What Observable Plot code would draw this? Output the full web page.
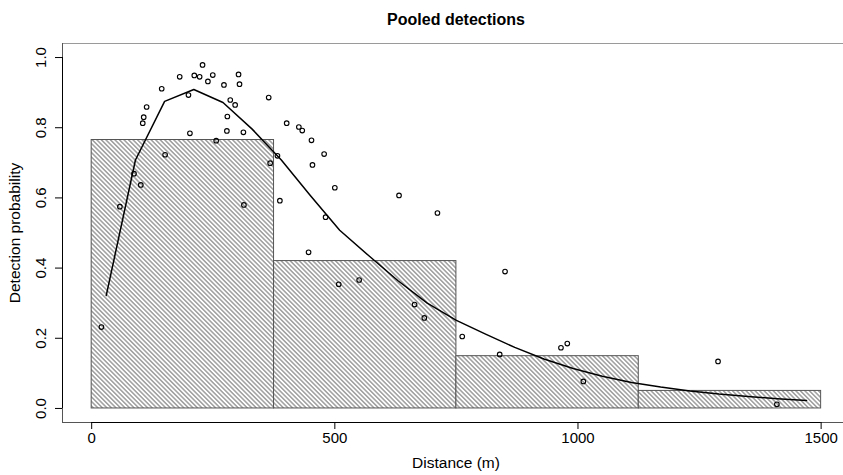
<!DOCTYPE html>
<html><head><meta charset="utf-8">
<script src="https://cdn.jsdelivr.net/npm/d3@7"></script>
<script src="https://cdn.jsdelivr.net/npm/@observablehq/plot@0.6"></script>
<style>
html,body{margin:0;padding:0;background:#fff;}
#chart svg{display:block;font-family:"Liberation Sans",Arial,sans-serif;}
</style></head><body><div id="chart"></div>
<script>
const chartTitle = "Pooled detections";
const xLabel = "Distance (m)";
const yLabel = "Detection probability";
const xTicks = [0, 500, 1000, 1500];
const yTicks = [0, 0.2, 0.4, 0.6, 0.8, 1.0];

// histogram bins (distance class edges and heights)
const binStart = [0, 375, 750, 1125];
const binEnd = [375, 750, 1125, 1500];
const binHeight = [0.765, 0.420, 0.149, 0.050];

// observed detection probabilities
const pointDist = [20, 58, 87, 101, 105, 107, 113, 144, 151, 181, 199, 202, 211, 222, 228, 239, 249, 256, 272, 279, 278, 285, 295, 302, 304, 312, 313, 364, 367, 382, 387, 401, 426, 433, 446, 452, 454, 478, 481, 500, 508, 550, 632, 664, 684, 711, 762, 839, 850, 965, 978, 1011, 1288, 1409];
const pointProb = [0.232, 0.575, 0.669, 0.637, 0.813, 0.830, 0.859, 0.911, 0.723, 0.945, 0.893, 0.784, 0.949, 0.945, 0.979, 0.932, 0.950, 0.763, 0.922, 0.832, 0.791, 0.879, 0.865, 0.952, 0.924, 0.787, 0.580, 0.886, 0.699, 0.720, 0.592, 0.813, 0.802, 0.792, 0.445, 0.764, 0.694, 0.725, 0.545, 0.629, 0.354, 0.366, 0.607, 0.296, 0.258, 0.557, 0.205, 0.154, 0.390, 0.173, 0.185, 0.077, 0.134, 0.012];

// fitted detection curve
const curveDist = [30, 90, 150, 210, 270, 330, 390, 450, 510, 570, 630, 690, 750, 810, 870, 930, 990, 1050, 1110, 1170, 1230, 1290, 1350, 1410, 1470];
const curveProb = [0.322, 0.708, 0.875, 0.909, 0.872, 0.796, 0.708, 0.606, 0.508, 0.435, 0.364, 0.300, 0.251, 0.212, 0.174, 0.141, 0.114, 0.092, 0.074, 0.061, 0.050, 0.041, 0.034, 0.028, 0.023];

const xDomain = [-60, 1546];
const yDomain = [-0.04, 1.04];

const binIdx = d3.range(binStart.length);
const pointIdx = d3.range(pointDist.length);
const curveIdx = d3.range(curveDist.length);

const svg = Plot.plot({
  width: 843,
  height: 475,
  marginLeft: 62,
  marginRight: 0,
  marginTop: 43,
  marginBottom: 53,
  style: {fontFamily: '"Liberation Sans", Arial, sans-serif', fontSize: "15px", background: "white", overflow: "visible"},
  x: {domain: xDomain, axis: null},
  y: {domain: yDomain, axis: null},
  marks: [
    // plot box (right side runs off the page)
    Plot.ruleY([yDomain[1]], {stroke: "#9a9a9a", strokeWidth: 1}),
    Plot.ruleY([yDomain[0]], {stroke: "#555", strokeWidth: 1}),
    Plot.ruleX([xDomain[0]], {stroke: "#555", strokeWidth: 1}),
    // histogram
    Plot.rectY(binIdx, {x1: i => binStart[i], x2: i => binEnd[i], y1: 0, y2: i => binHeight[i], fill: "url(#hatch)", stroke: "#555", strokeWidth: 1}),
    // fitted curve
    Plot.line(curveIdx, {x: i => curveDist[i], y: i => curveProb[i], stroke: "black", strokeWidth: 1.5}),
    // observations
    Plot.dot(pointIdx, {x: i => pointDist[i], y: i => pointProb[i], r: 2.3, stroke: "black", fill: "none", strokeWidth: 1.1}),
    // axes
    Plot.ruleY([yDomain[0]], {x1: xTicks[0], x2: xTicks[xTicks.length - 1], stroke: "black", strokeWidth: 1}),
    Plot.ruleX([xDomain[0]], {y1: yTicks[0], y2: yTicks[yTicks.length - 1], stroke: "black", strokeWidth: 1}),
    Plot.axisX({ticks: xTicks, tickSize: 7, tickPadding: 2.5, tickFormat: d => String(d), fontSize: 15, stroke: "black", color: "black"}),
    Plot.axisY({ticks: yTicks, tickSize: 7, tickFormat: () => "", stroke: "black"}),
    Plot.text(yTicks, {y: d => d, frameAnchor: "left", dx: -21, rotate: -90, text: d => d.toFixed(1), fontSize: 15, lineAnchor: "middle", textAnchor: "middle", fill: "black"}),
    Plot.text([yLabel], {frameAnchor: "left", dx: -47, rotate: -90, fontSize: 15.5, lineAnchor: "middle", textAnchor: "middle", fill: "black"}),
    Plot.text([xLabel], {frameAnchor: "bottom", dx: 3, dy: 41, fontSize: 15.5, lineAnchor: "middle", fill: "black"}),
    Plot.text([chartTitle], {frameAnchor: "top", dx: 3, dy: -24, fontSize: 16, fontWeight: "bold", lineAnchor: "middle", fill: "black"})
  ]
});

const ns = "http://www.w3.org/2000/svg";
const defs = document.createElementNS(ns, "defs");
defs.innerHTML = '<pattern id="hatch" patternUnits="userSpaceOnUse" width="3.2" height="3.2" patternTransform="rotate(-45)">' +
  '<rect width="3.2" height="3.2" fill="white"/>' +
  '<line x1="1.6" y1="-1" x2="1.6" y2="4.2" stroke="#666" stroke-width="0.95"/></pattern>';
svg.insertBefore(defs, svg.firstChild);
document.getElementById("chart").appendChild(svg);
</script>
</body></html>
